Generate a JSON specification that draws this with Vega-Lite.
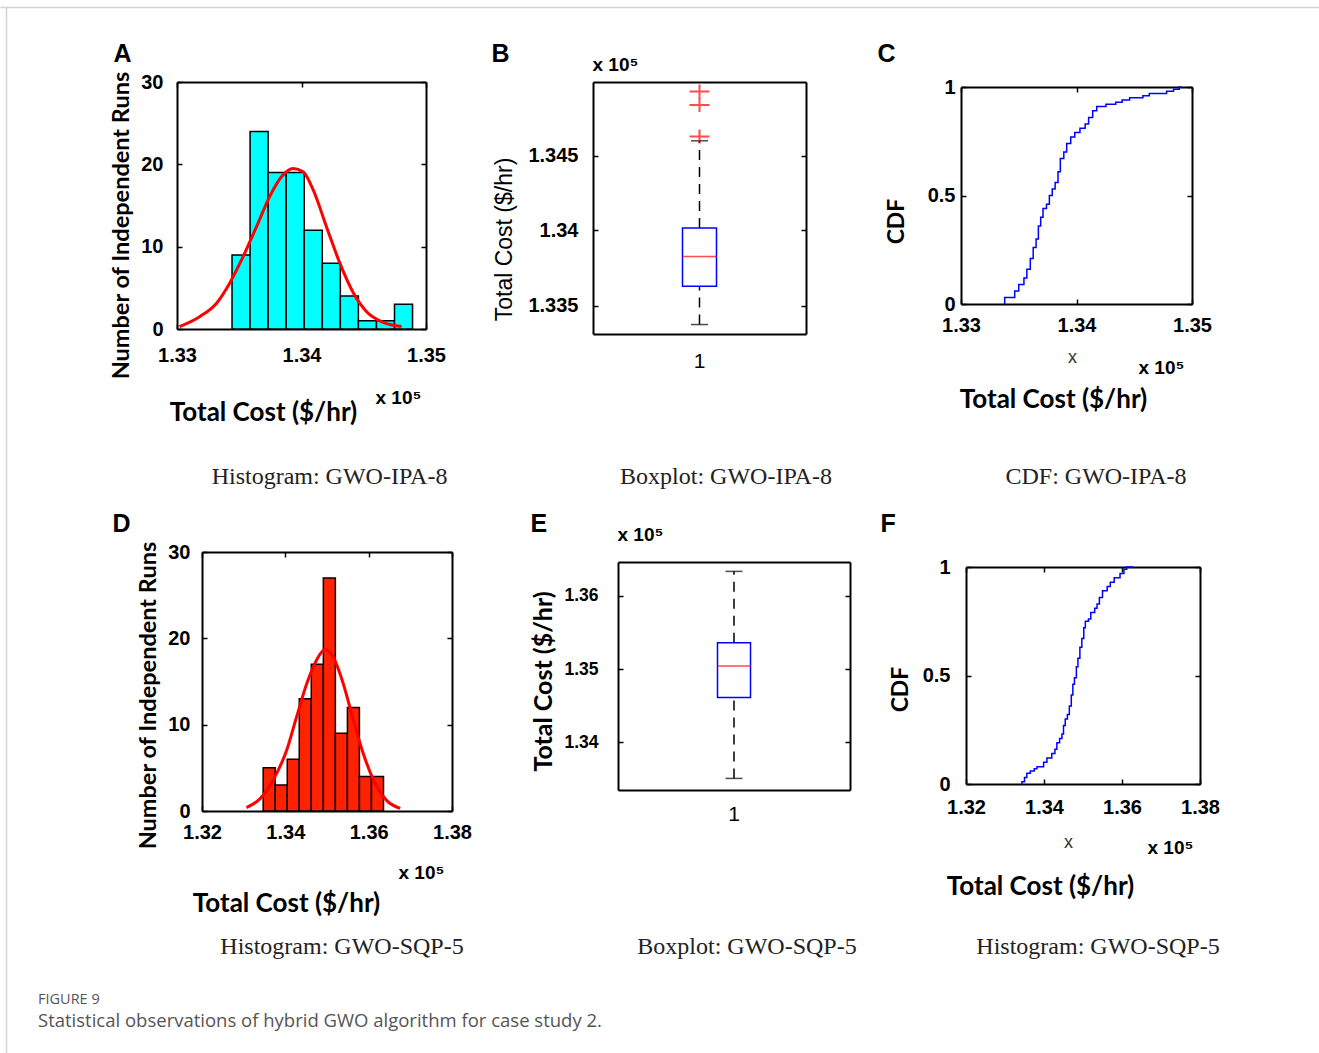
{
  "$schema": "https://vega.github.io/schema/vega-lite/v6.json",
  "padding": {"left": 0, "top": 0, "right": 0, "bottom": 20},
  "background": "white",
  "config": {
    "view": {"stroke": null},
    "axis": {"grid": false, "domainColor": "#000000", "domainWidth": 2, "tickColor": "#000000", "tickWidth": 1.5, "tickSize": -5, "labelColor": "#000000", "labelFont": "Liberation Sans", "labelFontWeight": "bold", "labelFontSize": 20, "labelOverlap": false, "labelFlush": false, "titleColor": "#000000", "titlePadding": 0},
    "tick": {"thickness": 1.5}
  },
  "title": {"text": "FIGURE 9", "subtitle": "Statistical observations of hybrid GWO algorithm for case study 2.", "orient": "bottom", "anchor": "start", "frame": "group", "dx": 38, "offset": -53, "baseline": "top", "font": "Open Sans", "fontSize": 14.5, "fontWeight": "normal", "color": "#555555", "subtitleFont": "Open Sans", "subtitleFontSize": 18.5, "subtitleColor": "#555555", "subtitlePadding": 4},
  "datasets": {
    "histA": [
      {"bin_start": 1.33442, "bin_end": 1.33587, "count": 9},
      {"bin_start": 1.33587, "bin_end": 1.33732, "count": 24},
      {"bin_start": 1.33732, "bin_end": 1.33877, "count": 19},
      {"bin_start": 1.33877, "bin_end": 1.34022, "count": 19},
      {"bin_start": 1.34022, "bin_end": 1.34167, "count": 12},
      {"bin_start": 1.34167, "bin_end": 1.34312, "count": 8},
      {"bin_start": 1.34312, "bin_end": 1.34457, "count": 4},
      {"bin_start": 1.34457, "bin_end": 1.34602, "count": 1},
      {"bin_start": 1.34602, "bin_end": 1.34747, "count": 1},
      {"bin_start": 1.34747, "bin_end": 1.34892, "count": 3}
    ],
    "fitA": [
      {"cost": 1.3302, "count": 0.3}, {"cost": 1.33182, "count": 1.5}, {"cost": 1.33316, "count": 3.1},
      {"cost": 1.33424, "count": 5.6}, {"cost": 1.33531, "count": 8.8}, {"cost": 1.33638, "count": 12.4},
      {"cost": 1.33745, "count": 16.1}, {"cost": 1.33839, "count": 18.5}, {"cost": 1.33933, "count": 19.5},
      {"cost": 1.34013, "count": 19.1}, {"cost": 1.34094, "count": 16.9}, {"cost": 1.34201, "count": 12.4},
      {"cost": 1.34308, "count": 8.0}, {"cost": 1.34416, "count": 4.4}, {"cost": 1.34523, "count": 2.1},
      {"cost": 1.34657, "count": 0.8}, {"cost": 1.34804, "count": 0.3}
    ],
    "boxB": [{"group": "1", "lower": 1.33373, "q1": 1.33629, "median": 1.33826, "q3": 1.34016, "upper": 1.34598}],
    "outB": [{"group": "1", "value": 1.34626}, {"group": "1", "value": 1.34837}, {"group": "1", "value": 1.34926}],
    "cdfC": [
      {"cost": 1.33377, "cdf": 0}, {"cost": 1.33378, "cdf": 0.03}, {"cost": 1.33465, "cdf": 0.06}, {"cost": 1.335, "cdf": 0.09},
      {"cost": 1.33545, "cdf": 0.12}, {"cost": 1.3357, "cdf": 0.16}, {"cost": 1.336, "cdf": 0.21}, {"cost": 1.33625, "cdf": 0.26},
      {"cost": 1.3365, "cdf": 0.3}, {"cost": 1.3367, "cdf": 0.36}, {"cost": 1.3369, "cdf": 0.4}, {"cost": 1.3371, "cdf": 0.44},
      {"cost": 1.3374, "cdf": 0.46}, {"cost": 1.33765, "cdf": 0.5}, {"cost": 1.3379, "cdf": 0.53}, {"cost": 1.33815, "cdf": 0.56},
      {"cost": 1.3384, "cdf": 0.61}, {"cost": 1.3386, "cdf": 0.67}, {"cost": 1.3389, "cdf": 0.7}, {"cost": 1.33915, "cdf": 0.74},
      {"cost": 1.3395, "cdf": 0.77}, {"cost": 1.33985, "cdf": 0.79}, {"cost": 1.3403, "cdf": 0.81}, {"cost": 1.34075, "cdf": 0.83},
      {"cost": 1.34105, "cdf": 0.86}, {"cost": 1.3414, "cdf": 0.89}, {"cost": 1.34175, "cdf": 0.91}, {"cost": 1.34255, "cdf": 0.92},
      {"cost": 1.3434, "cdf": 0.93}, {"cost": 1.34395, "cdf": 0.94}, {"cost": 1.3446, "cdf": 0.95}, {"cost": 1.34575, "cdf": 0.96},
      {"cost": 1.3463, "cdf": 0.97}, {"cost": 1.3478, "cdf": 0.98}, {"cost": 1.3484, "cdf": 0.99}, {"cost": 1.3489, "cdf": 1.0},
      {"cost": 1.34913, "cdf": 1.0}
    ],
    "histD": [
      {"bin_start": 1.33468, "bin_end": 1.33757, "count": 5},
      {"bin_start": 1.33757, "bin_end": 1.34046, "count": 3},
      {"bin_start": 1.34046, "bin_end": 1.34334, "count": 6},
      {"bin_start": 1.34334, "bin_end": 1.34623, "count": 13},
      {"bin_start": 1.34623, "bin_end": 1.34912, "count": 17},
      {"bin_start": 1.34912, "bin_end": 1.35201, "count": 27},
      {"bin_start": 1.35201, "bin_end": 1.3549, "count": 9},
      {"bin_start": 1.3549, "bin_end": 1.35778, "count": 12},
      {"bin_start": 1.35778, "bin_end": 1.36067, "count": 4},
      {"bin_start": 1.36067, "bin_end": 1.36356, "count": 4}
    ],
    "fitD": [
      {"cost": 1.33067, "count": 0.4}, {"cost": 1.33388, "count": 1.4}, {"cost": 1.33708, "count": 3.6},
      {"cost": 1.34029, "count": 7.0}, {"cost": 1.3427, "count": 10.9}, {"cost": 1.34511, "count": 14.7},
      {"cost": 1.34751, "count": 17.5}, {"cost": 1.34952, "count": 18.7}, {"cost": 1.35152, "count": 17.8},
      {"cost": 1.35393, "count": 14.7}, {"cost": 1.35634, "count": 10.5}, {"cost": 1.35874, "count": 6.6},
      {"cost": 1.36115, "count": 3.6}, {"cost": 1.36436, "count": 1.2}, {"cost": 1.36757, "count": 0.3}
    ],
    "boxE": [{"group": "1", "lower": 1.33508, "q1": 1.34613, "median": 1.35041, "q3": 1.35359, "upper": 1.36332}],
    "cdfF": [
      {"cost": 1.33433, "cdf": 0}, {"cost": 1.33434, "cdf": 0.01}, {"cost": 1.335, "cdf": 0.03}, {"cost": 1.3356, "cdf": 0.05},
      {"cost": 1.3365, "cdf": 0.06}, {"cost": 1.3375, "cdf": 0.07}, {"cost": 1.3382, "cdf": 0.08}, {"cost": 1.3399, "cdf": 0.1},
      {"cost": 1.34075, "cdf": 0.12}, {"cost": 1.342, "cdf": 0.14}, {"cost": 1.3428, "cdf": 0.16}, {"cost": 1.3433, "cdf": 0.19},
      {"cost": 1.344, "cdf": 0.21}, {"cost": 1.3446, "cdf": 0.23}, {"cost": 1.345, "cdf": 0.27}, {"cost": 1.34545, "cdf": 0.3},
      {"cost": 1.346, "cdf": 0.32}, {"cost": 1.3465, "cdf": 0.36}, {"cost": 1.347, "cdf": 0.41}, {"cost": 1.3474, "cdf": 0.46},
      {"cost": 1.3478, "cdf": 0.49}, {"cost": 1.3483, "cdf": 0.54}, {"cost": 1.3487, "cdf": 0.58}, {"cost": 1.3492, "cdf": 0.63},
      {"cost": 1.3497, "cdf": 0.67}, {"cost": 1.3502, "cdf": 0.72}, {"cost": 1.3506, "cdf": 0.75}, {"cost": 1.3514, "cdf": 0.76},
      {"cost": 1.352, "cdf": 0.79}, {"cost": 1.353, "cdf": 0.81}, {"cost": 1.3536, "cdf": 0.83}, {"cost": 1.3542, "cdf": 0.86},
      {"cost": 1.355, "cdf": 0.89}, {"cost": 1.3562, "cdf": 0.91}, {"cost": 1.357, "cdf": 0.93}, {"cost": 1.358, "cdf": 0.95},
      {"cost": 1.3595, "cdf": 0.97}, {"cost": 1.3605, "cdf": 0.99}, {"cost": 1.3612, "cdf": 1.0}, {"cost": 1.3629, "cdf": 1.0}
    ]
  },
  "columns": 3,
  "spacing": 0,
  "bounds": "flush",
  "align": "none",
  "concat": [
    {
      "width": 426, "height": 329,
      "layer": [
        {
          "data": {"name": "histA"},
          "mark": {"type": "bar", "fill": "#00ffff", "stroke": "#000000", "strokeWidth": 1.5},
          "encoding": {
            "x": {"field": "bin_start", "type": "quantitative", "scale": {"domain": [1.33, 1.35], "range": [177, 426], "nice": false, "zero": false},
              "axis": {"orient": "bottom", "values": [1.33, 1.34, 1.35], "format": ".2f", "labelPadding": 21, "title": "Total Cost ($/hr)", "titleFont": "Lato", "titleFontSize": 26, "titleFontWeight": "bold", "titleX": 263, "titleY": 91, "titleAlign": "center", "titleBaseline": "alphabetic", "titleAngle": 0}},
            "x2": {"field": "bin_end"},
            "y": {"field": "count", "type": "quantitative", "scale": {"domain": [0, 30], "range": [329, 82], "nice": false},
              "axis": {"orient": "left", "offset": -177, "values": [0, 10, 20, 30], "labelPadding": 19, "title": "Number of Independent Runs", "titleFont": "Lato", "titleFontSize": 23.5, "titleFontWeight": "bold", "titleX": -49, "titleY": 225, "titleAlign": "center", "titleBaseline": "alphabetic", "titleAngle": -90}},
            "y2": {"datum": 0}
          }
        },
        {
          "data": {"name": "fitA"},
          "mark": {"type": "line", "color": "#ff0000", "strokeWidth": 3, "interpolate": "monotone"},
          "encoding": {
            "x": {"field": "cost", "type": "quantitative", "scale": {"domain": [1.33, 1.35], "range": [177, 426], "nice": false, "zero": false},
              "axis": {"orient": "top", "offset": -82, "values": [1.33, 1.34, 1.35], "labels": false, "title": "A", "titleFont": "Liberation Sans", "titleFontSize": 25, "titleFontWeight": "bold", "titleX": 113, "titleY": -21, "titleAlign": "left", "titleBaseline": "alphabetic", "titleAngle": 0}},
            "y": {"field": "count", "type": "quantitative", "scale": {"domain": [0, 30], "range": [329, 82], "nice": false},
              "axis": {"orient": "right", "values": [0, 10, 20, 30], "labels": false, "title": "x 10⁵", "titleFont": "Liberation Sans", "titleFontSize": 19, "titleFontWeight": "bold", "titleX": -51, "titleY": 403, "titleAlign": "left", "titleBaseline": "alphabetic", "titleAngle": 0}}
          }
        },
        {
          "data": {"values": []},
          "mark": "point",
          "encoding": {
            "x": {"field": "frame_x", "type": "quantitative", "scale": {"domain": [0, 1], "range": [0, 1319], "nice": false, "zero": false},
              "axis": {"orient": "top", "offset": -7, "ticks": false, "labels": false, "domainColor": "#d4d4d4", "domainWidth": 1.5, "title": "Histogram: GWO-IPA-8", "titleFont": "Liberation Serif", "titleFontSize": 24, "titleFontWeight": "normal", "titleColor": "#222222", "titleX": 329, "titleY": 476, "titleAlign": "center", "titleBaseline": "alphabetic", "titleAngle": 0}},
            "y": {"field": "frame_y", "type": "quantitative", "scale": {"domain": [0, 1], "range": [1053, 7], "nice": false, "zero": false},
              "axis": {"orient": "left", "offset": -6, "ticks": false, "labels": false, "title": null, "domainColor": "#d4d4d4", "domainWidth": 1.5}}
          }
        }
      ],
      "resolve": {"scale": {"x": "independent", "y": "independent"}, "axis": {"x": "independent", "y": "independent"}}
    },
    {
      "width": 354, "height": 334,
      "title": {"text": "Boxplot: GWO-IPA-8", "orient": "bottom", "anchor": "middle", "frame": "group", "dx": 97, "offset": 94, "baseline": "top", "font": "Liberation Serif", "fontSize": 24, "fontWeight": "normal", "color": "#222222"},
      "data": {"name": "boxB"},
      "layer": [
        {
          "mark": {"type": "rule", "color": "#000000", "strokeWidth": 1.5, "strokeDash": [10, 7]},
          "encoding": {
            "x": {"field": "group", "type": "nominal", "scale": {"type": "band", "domain": ["1"], "range": [141, 354], "paddingInner": 0, "paddingOuter": 0},
              "axis": {"orient": "bottom", "ticks": false, "labelFontWeight": "normal", "labelFontSize": 21, "labelPadding": 16, "labelAngle": 0, "title": null}},
            "y": {"field": "q3", "type": "quantitative", "scale": {"domain": [1.3331, 1.3499], "range": [334, 82], "nice": false, "zero": false},
              "axis": {"orient": "left", "offset": -141, "values": [1.335, 1.34, 1.345], "format": ".3~f", "labelPadding": 20, "title": "Total Cost ($/hr)", "titleFont": "Liberation Sans", "titleFontSize": 23, "titleFontWeight": "normal", "titleX": -82, "titleY": 239, "titleAlign": "center", "titleBaseline": "alphabetic", "titleAngle": -90}},
            "y2": {"field": "upper"}
          }
        },
        {
          "mark": {"type": "rule", "color": "#000000", "strokeWidth": 1.5, "strokeDash": [10, 7]},
          "encoding": {
            "x": {"field": "group", "type": "nominal", "axis": null},
            "y": {"field": "lower", "type": "quantitative", "axis": null},
            "y2": {"field": "q1"}
          }
        },
        {
          "mark": {"type": "tick", "orient": "horizontal", "color": "#000000", "size": 17, "thickness": 1.5},
          "encoding": {
            "x": {"field": "group", "type": "nominal", "axis": null},
            "y": {"field": "upper", "type": "quantitative", "axis": null}
          }
        },
        {
          "mark": {"type": "tick", "orient": "horizontal", "color": "#000000", "size": 17, "thickness": 1.5},
          "encoding": {
            "x": {"field": "group", "type": "nominal", "axis": null},
            "y": {"field": "lower", "type": "quantitative", "axis": null}
          }
        },
        {
          "mark": {"type": "bar", "width": 34, "fill": "#ffffff", "fillOpacity": 0, "stroke": "#0000ff", "strokeWidth": 1.5},
          "encoding": {
            "x": {"field": "group", "type": "nominal", "axis": null},
            "y": {"field": "q1", "type": "quantitative", "axis": null},
            "y2": {"field": "q3"}
          }
        },
        {
          "mark": {"type": "tick", "orient": "horizontal", "color": "#ff0000", "size": 34, "thickness": 1.5},
          "encoding": {
            "x": {"field": "group", "type": "nominal", "axis": null},
            "y": {"field": "median", "type": "quantitative", "axis": null}
          }
        },
        {
          "data": {"name": "outB"},
          "mark": {"type": "point", "shape": "M-1,0H1M0,-0.7V0.7", "size": 400, "filled": false, "stroke": "#ff0000", "strokeWidth": 2},
          "encoding": {
            "x": {"field": "group", "type": "nominal",
              "axis": {"orient": "top", "offset": -82, "ticks": false, "labels": false, "title": "B", "titleFont": "Liberation Sans", "titleFontSize": 25, "titleFontWeight": "bold", "titleX": 39, "titleY": -21, "titleAlign": "left", "titleBaseline": "alphabetic", "titleAngle": 0}},
            "y": {"field": "value", "type": "quantitative",
              "axis": {"orient": "right", "values": [1.335, 1.34, 1.345], "labels": false, "title": "x 10⁵", "titleFont": "Liberation Sans", "titleFontSize": 19, "titleFontWeight": "bold", "titleX": -214, "titleY": 70, "titleAlign": "left", "titleBaseline": "alphabetic", "titleAngle": 0}}
          }
        }
      ],
      "resolve": {"axis": {"x": "independent", "y": "independent"}}
    },
    {
      "width": 342, "height": 304,
      "title": {"text": "CDF: GWO-IPA-8", "orient": "bottom", "anchor": "middle", "frame": "group", "dx": 75, "offset": 53, "baseline": "top", "font": "Liberation Serif", "fontSize": 24, "fontWeight": "normal", "color": "#222222"},
      "layer": [
        {
          "data": {"name": "cdfC"},
          "mark": {"type": "line", "color": "#0000ff", "strokeWidth": 1.5, "interpolate": "step-after"},
          "encoding": {
            "x": {"field": "cost", "type": "quantitative", "scale": {"domain": [1.33, 1.35], "range": [111, 342], "nice": false, "zero": false},
              "axis": {"orient": "bottom", "values": [1.33, 1.34, 1.35], "format": ".2f", "labelPadding": 16, "title": "x", "titleFont": "Liberation Sans", "titleFontSize": 18, "titleFontWeight": "normal", "titleColor": "#333333", "titleX": 222, "titleY": 58, "titleAlign": "center", "titleBaseline": "alphabetic", "titleAngle": 0}},
            "y": {"field": "cdf", "type": "quantitative", "scale": {"domain": [0, 1], "range": [304, 87], "nice": false},
              "axis": {"orient": "left", "offset": -111, "values": [0, 0.5, 1], "format": "~g", "labelPadding": 11, "title": "CDF", "titleFont": "Lato", "titleFontSize": 23, "titleFontWeight": "bold", "titleX": -58, "titleY": 221, "titleAlign": "center", "titleBaseline": "alphabetic", "titleAngle": -90}}
          }
        },
        {
          "data": {"values": []},
          "mark": "point",
          "encoding": {
            "x": {"field": "cost", "type": "quantitative",
              "axis": {"orient": "top", "offset": -87, "values": [1.33, 1.34, 1.35], "labels": false, "title": "C", "titleFont": "Liberation Sans", "titleFontSize": 25, "titleFontWeight": "bold", "titleX": 27, "titleY": -26, "titleAlign": "left", "titleBaseline": "alphabetic", "titleAngle": 0}},
            "y": {"field": "cdf", "type": "quantitative",
              "axis": {"orient": "right", "values": [0, 0.5, 1], "labels": false, "title": "x 10⁵", "titleFont": "Liberation Sans", "titleFontSize": 19, "titleFontWeight": "bold", "titleX": -54, "titleY": 373, "titleAlign": "left", "titleBaseline": "alphabetic", "titleAngle": 0}}
          }
        },
        {
          "data": {"values": []},
          "mark": "point",
          "encoding": {
            "x": {"field": "cost", "type": "quantitative",
              "axis": {"orient": "bottom", "domain": false, "ticks": false, "labels": false, "title": "Total Cost ($/hr)", "titleFont": "Lato", "titleFontSize": 26, "titleFontWeight": "bold", "titleX": 203, "titleY": 103, "titleAlign": "center", "titleBaseline": "alphabetic", "titleAngle": 0}},
            "y": {"field": "cdf", "type": "quantitative", "axis": null}
          }
        }
      ],
      "resolve": {"axis": {"x": "independent", "y": "independent"}}
    },
    {
      "width": 452, "height": 477,
      "title": {"text": "Histogram: GWO-SQP-5", "orient": "bottom", "anchor": "middle", "frame": "group", "dx": 116, "offset": 19, "baseline": "top", "font": "Liberation Serif", "fontSize": 24, "fontWeight": "normal", "color": "#222222"},
      "layer": [
        {
          "data": {"name": "histD"},
          "mark": {"type": "bar", "fill": "#ff2200", "stroke": "#000000", "strokeWidth": 1.5},
          "encoding": {
            "x": {"field": "bin_start", "type": "quantitative", "scale": {"domain": [1.32, 1.38], "range": [202, 452], "nice": false, "zero": false},
              "axis": {"orient": "bottom", "values": [1.32, 1.34, 1.36, 1.38], "format": ".2f", "labelPadding": 16, "title": "Total Cost ($/hr)", "titleFont": "Lato", "titleFontSize": 26, "titleFontWeight": "bold", "titleX": 286, "titleY": 100, "titleAlign": "center", "titleBaseline": "alphabetic", "titleAngle": 0}},
            "x2": {"field": "bin_end"},
            "y": {"field": "count", "type": "quantitative", "scale": {"domain": [0, 30], "range": [477, 218], "nice": false},
              "axis": {"orient": "left", "offset": -202, "values": [0, 10, 20, 30], "labelPadding": 17, "title": "Number of Independent Runs", "titleFont": "Lato", "titleFontSize": 23.5, "titleFontWeight": "bold", "titleX": -47, "titleY": 361, "titleAlign": "center", "titleBaseline": "alphabetic", "titleAngle": -90}},
            "y2": {"datum": 0}
          }
        },
        {
          "data": {"name": "fitD"},
          "mark": {"type": "line", "color": "#ff0000", "strokeWidth": 3, "interpolate": "monotone"},
          "encoding": {
            "x": {"field": "cost", "type": "quantitative",
              "axis": {"orient": "top", "offset": -218, "values": [1.32, 1.34, 1.36, 1.38], "labels": false, "title": "D", "titleFont": "Liberation Sans", "titleFontSize": 25, "titleFontWeight": "bold", "titleX": 112, "titleY": -21, "titleAlign": "left", "titleBaseline": "alphabetic", "titleAngle": 0}},
            "y": {"field": "count", "type": "quantitative",
              "axis": {"orient": "right", "values": [0, 10, 20, 30], "labels": false, "title": "x 10⁵", "titleFont": "Liberation Sans", "titleFontSize": 19, "titleFontWeight": "bold", "titleX": -54, "titleY": 544, "titleAlign": "left", "titleBaseline": "alphabetic", "titleAngle": 0}}
          }
        }
      ],
      "resolve": {"axis": {"x": "independent", "y": "independent"}}
    },
    {
      "width": 398, "height": 456,
      "title": {"text": "Boxplot: GWO-SQP-5", "orient": "bottom", "anchor": "middle", "frame": "group", "dx": 96, "offset": 111, "baseline": "top", "font": "Liberation Serif", "fontSize": 24, "fontWeight": "normal", "color": "#222222"},
      "data": {"name": "boxE"},
      "layer": [
        {
          "mark": {"type": "rule", "color": "#000000", "strokeWidth": 1.5, "strokeDash": [10, 7]},
          "encoding": {
            "x": {"field": "group", "type": "nominal", "scale": {"type": "band", "domain": ["1"], "range": [166, 398], "paddingInner": 0, "paddingOuter": 0},
              "axis": {"orient": "bottom", "ticks": false, "labelFontWeight": "normal", "labelFontSize": 21, "labelPadding": 13, "labelAngle": 0, "title": null}},
            "y": {"field": "q3", "type": "quantitative", "scale": {"domain": [1.3335, 1.3646], "range": [456, 228], "nice": false, "zero": false},
              "axis": {"orient": "left", "offset": -166, "values": [1.34, 1.35, 1.36], "format": ".2f", "labelPadding": 25, "labelFontSize": 17.5, "title": "Total Cost ($/hr)", "titleFont": "Lato", "titleFontSize": 25, "titleFontWeight": "bold", "titleX": -67, "titleY": 347, "titleAlign": "center", "titleBaseline": "alphabetic", "titleAngle": -90}},
            "y2": {"field": "upper"}
          }
        },
        {
          "mark": {"type": "rule", "color": "#000000", "strokeWidth": 1.5, "strokeDash": [10, 7]},
          "encoding": {
            "x": {"field": "group", "type": "nominal", "axis": null},
            "y": {"field": "lower", "type": "quantitative", "axis": null},
            "y2": {"field": "q1"}
          }
        },
        {
          "mark": {"type": "bar", "width": 33, "fill": "#ffffff", "fillOpacity": 0, "stroke": "#0000ff", "strokeWidth": 1.5},
          "encoding": {
            "x": {"field": "group", "type": "nominal", "axis": null},
            "y": {"field": "q1", "type": "quantitative", "axis": null},
            "y2": {"field": "q3"}
          }
        },
        {
          "mark": {"type": "tick", "orient": "horizontal", "color": "#ff0000", "size": 33, "thickness": 1.5},
          "encoding": {
            "x": {"field": "group", "type": "nominal", "axis": null},
            "y": {"field": "median", "type": "quantitative", "axis": null}
          }
        },
        {
          "mark": {"type": "tick", "orient": "horizontal", "color": "#000000", "size": 17, "thickness": 1.5},
          "encoding": {
            "x": {"field": "group", "type": "nominal", "axis": null},
            "y": {"field": "lower", "type": "quantitative", "axis": null}
          }
        },
        {
          "mark": {"type": "tick", "orient": "horizontal", "color": "#000000", "size": 17, "thickness": 1.5},
          "encoding": {
            "x": {"field": "group", "type": "nominal",
              "axis": {"orient": "top", "offset": -228, "ticks": false, "labels": false, "title": "E", "titleFont": "Liberation Sans", "titleFontSize": 25, "titleFontWeight": "bold", "titleX": 78, "titleY": -31, "titleAlign": "left", "titleBaseline": "alphabetic", "titleAngle": 0}},
            "y": {"field": "upper", "type": "quantitative",
              "axis": {"orient": "right", "values": [1.34, 1.35, 1.36], "labels": false, "title": "x 10⁵", "titleFont": "Liberation Sans", "titleFontSize": 19, "titleFontWeight": "bold", "titleX": -233, "titleY": 206, "titleAlign": "left", "titleBaseline": "alphabetic", "titleAngle": 0}}
          }
        }
      ],
      "resolve": {"axis": {"x": "independent", "y": "independent"}}
    },
    {
      "width": 350, "height": 450,
      "title": {"text": "Histogram: GWO-SQP-5", "orient": "bottom", "anchor": "middle", "frame": "group", "dx": 73, "offset": 36, "baseline": "top", "font": "Liberation Serif", "fontSize": 24, "fontWeight": "normal", "color": "#222222"},
      "layer": [
        {
          "data": {"name": "cdfF"},
          "mark": {"type": "line", "color": "#0000ff", "strokeWidth": 1.5, "interpolate": "step-after"},
          "encoding": {
            "x": {"field": "cost", "type": "quantitative", "scale": {"domain": [1.32, 1.38], "range": [116, 350], "nice": false, "zero": false},
              "axis": {"orient": "bottom", "values": [1.32, 1.34, 1.36, 1.38], "format": ".2f", "labelPadding": 18, "title": "x", "titleFont": "Liberation Sans", "titleFontSize": 18, "titleFontWeight": "normal", "titleColor": "#333333", "titleX": 218, "titleY": 63, "titleAlign": "center", "titleBaseline": "alphabetic", "titleAngle": 0}},
            "y": {"field": "cdf", "type": "quantitative", "scale": {"domain": [0, 1], "range": [450, 233], "nice": false},
              "axis": {"orient": "left", "offset": -116, "values": [0, 0.5, 1], "format": "~g", "labelPadding": 21, "title": "CDF", "titleFont": "Lato", "titleFontSize": 23, "titleFontWeight": "bold", "titleX": -59, "titleY": 355, "titleAlign": "center", "titleBaseline": "alphabetic", "titleAngle": -90}}
          }
        },
        {
          "data": {"values": []},
          "mark": "point",
          "encoding": {
            "x": {"field": "cost", "type": "quantitative",
              "axis": {"orient": "top", "offset": -233, "values": [1.32, 1.34, 1.36, 1.38], "labels": false, "title": "F", "titleFont": "Liberation Sans", "titleFontSize": 25, "titleFontWeight": "bold", "titleX": 30, "titleY": -36, "titleAlign": "left", "titleBaseline": "alphabetic", "titleAngle": 0}},
            "y": {"field": "cdf", "type": "quantitative",
              "axis": {"orient": "right", "values": [0, 0.5, 1], "labels": false, "title": "x 10⁵", "titleFont": "Liberation Sans", "titleFontSize": 19, "titleFontWeight": "bold", "titleX": -53, "titleY": 519, "titleAlign": "left", "titleBaseline": "alphabetic", "titleAngle": 0}}
          }
        },
        {
          "data": {"values": []},
          "mark": "point",
          "encoding": {
            "x": {"field": "cost", "type": "quantitative",
              "axis": {"orient": "bottom", "domain": false, "ticks": false, "labels": false, "title": "Total Cost ($/hr)", "titleFont": "Lato", "titleFontSize": 26, "titleFontWeight": "bold", "titleX": 190, "titleY": 110, "titleAlign": "center", "titleBaseline": "alphabetic", "titleAngle": 0}},
            "y": {"field": "cdf", "type": "quantitative", "axis": null}
          }
        }
      ],
      "resolve": {"axis": {"x": "independent", "y": "independent"}}
    }
  ]
}
